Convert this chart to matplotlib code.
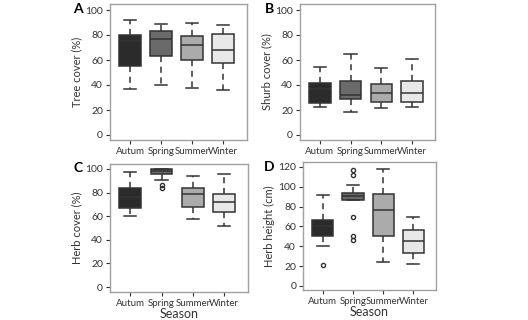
import matplotlib.pyplot as plt

plt.rcParams["font.family"] = ["Lato", "DejaVu Sans"]

seasons = ["Autum", "Spring", "Summer", "Winter"]
fills = ["#2b2b2b", "#6a6a6a", "#ababab", "#e8e8e8"]

# (whislo, q1, median, q3, whishi) per season
tree_cover = [(37, 55, 75, 80, 92), (40, 63, 77, 83, 89),
              (38, 60, 72, 79, 90), (36, 58, 68, 81, 88)]
shrub_cover = [(22.7, 26, 36.5, 42, 54.7), (18.7, 28.5, 32, 43.5, 65),
               (22, 26.7, 34, 40.5, 54), (22.7, 26.7, 34, 43, 60.5)]
herb_cover = [(60.5, 66.8, 76, 83.7, 97.5), (90.7, 95.5, 98.3, 100, 100),
              (57.5, 67.6, 78.9, 83.7, 94.4), (52, 63.4, 71.8, 79, 95.8)]
herb_cover_fliers = [[], [86.5, 83.7], [], []]
herb_height = [(40, 50.2, 60, 66.7, 92), (87, 87, 90.3, 93.7, 102),
               (24, 50.6, 76.8, 92.3, 118), (22, 33.7, 45.8, 56, 69.4)]
herb_height_fliers = [[21], [117, 112, 69, 50.6, 46], [], []]


def make_stats(rows, fliers=None):
    out = []
    for i, (lo, q1, med, q3, hi) in enumerate(rows):
        out.append(dict(whislo=lo, q1=q1, med=med, q3=q3, whishi=hi,
                        fliers=(fliers[i] if fliers else [])))
    return out


fig = plt.figure(figsize=(5.28, 3.2), dpi=100)

# letter, axes rect, data, fliers, ylabel, ylim, yticks, season label, letter pos (px)
panels = [
    ("A", [0.208, 0.5625, 0.259, 0.425], tree_cover, None, "Tree cover (%)", (-4, 104.8), range(0, 101, 20), False, (73, 9)),
    ("B", [0.568, 0.5625, 0.256, 0.425], shrub_cover, None, "Shurb cover (%)", (-4, 104.8), range(0, 101, 20), False, (265, 9)),
    ("C", [0.208, 0.0875, 0.261, 0.40], herb_cover, herb_cover_fliers, "Herb cover (%)", (-4.2, 104.2), range(0, 101, 20), True, (73, 168)),
    ("D", [0.574, 0.094, 0.252, 0.40], herb_height, herb_height_fliers, "Herb height (cm)", (-4, 125), range(0, 121, 20), True, (264, 167)),
]

edge = "#333333"
for letter, rect, rows, fl, ylabel, ylim, yticks, show_season, lpos in panels:
    ax = fig.add_axes(rect)
    bp = ax.bxp(make_stats(rows, fl), positions=[1, 2, 3, 4], widths=0.7,
                patch_artist=True, showfliers=True,
                boxprops=dict(edgecolor=edge, linewidth=1.1),
                medianprops=dict(color=edge, linewidth=1.1),
                whiskerprops=dict(color=edge, linewidth=1.1, linestyle=(0, (4, 3))),
                capprops=dict(color=edge, linewidth=1.1),
                flierprops=dict(marker="o", markersize=3, markerfacecolor="none",
                                markeredgecolor=edge, markeredgewidth=1.0))
    for patch, c in zip(bp["boxes"], fills):
        patch.set_facecolor(c)
    for cap in bp["caps"]:
        x = cap.get_xdata()
        m = (x[0] + x[1]) / 2
        cap.set_xdata([m - 0.2, m + 0.2])

    ax.set_xlim(0.35, 4.75)
    ax.set_ylim(*ylim)
    ax.set_yticks(list(yticks))
    ax.set_xticks([1, 2, 3, 4])
    ax.set_xticklabels(seasons)
    ax.tick_params(axis="x", labelsize=7, colors="#333333", length=3, width=0.8, pad=2)
    ax.tick_params(axis="y", labelsize=7.5, colors="#333333", length=3, width=0.8, pad=2)
    for s in ax.spines.values():
        s.set_color("#a0a0a0")
        s.set_linewidth(1.0)
    ax.set_ylabel(ylabel, fontsize=8, color="#333333", labelpad=2)
    if show_season:
        ax.set_xlabel("Season", fontsize=9, color="#333333", labelpad=0)

    fig.text(lpos[0] / 528, 1 - lpos[1] / 320, letter, fontsize=10,
             fontweight="bold", ha="left", va="center")

fig.savefig("out.png", dpi=100)
